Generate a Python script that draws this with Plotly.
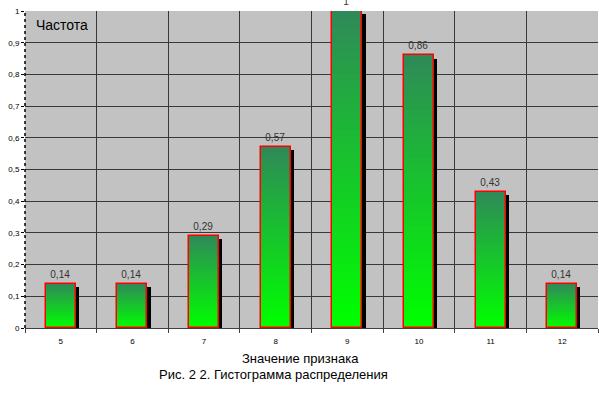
import plotly.graph_objects as go

categories = [5, 6, 7, 8, 9, 10, 11, 12]
frequencies = [0.14, 0.14, 0.29, 0.57, 1.0, 0.86, 0.43, 0.14]
y_tick_values = [0, 0.1, 0.2, 0.3, 0.4, 0.5, 0.6, 0.7, 0.8, 0.9, 1.0]
y_tick_labels = ["0", "0,1", "0,2", "0,3", "0,4", "0,5", "0,6", "0,7", "0,8", "0,9", "1"]
x_tick_labels = ["5", "6", "7", "8", "9", "10", "11", "12"]
value_labels = [f"{v:g}".replace(".", ",") for v in frequencies]

BAR_W = 0.42
N_SEG = 40
TOP_RGB = (46, 139, 87)
BOT_RGB = (0, 255, 0)

fig = go.Figure()

# shadow
fig.add_trace(go.Bar(
    x=categories, y=[v - 0.01 for v in frequencies], base=0,
    width=BAR_W, offset=-BAR_W / 2 + 0.045,
    marker=dict(color="black", line=dict(width=0)),
    hoverinfo="skip", showlegend=False,
))

# gradient segments
for i in range(N_SEG):
    t = i / (N_SEG - 1)
    r = round(BOT_RGB[0] + (TOP_RGB[0] - BOT_RGB[0]) * t)
    g = round(BOT_RGB[1] + (TOP_RGB[1] - BOT_RGB[1]) * t)
    b = round(BOT_RGB[2] + (TOP_RGB[2] - BOT_RGB[2]) * t)
    fig.add_trace(go.Bar(
        x=categories,
        y=[v / N_SEG * 1.02 for v in frequencies],
        base=[v * i / N_SEG for v in frequencies],
        width=BAR_W,
        marker=dict(color=f"rgb({r},{g},{b})", line=dict(width=0)),
        hoverinfo="skip", showlegend=False,
    ))

# outline + labels
fig.add_trace(go.Bar(
    x=categories, y=frequencies, width=BAR_W,
    marker=dict(color="rgba(0,0,0,0)", line=dict(color="#ff0000", width=1.5)),
    text=value_labels, textposition="outside", cliponaxis=False,
    textfont=dict(family="Arial", size=10, color="#333333"),
    showlegend=False,
))

fig.add_shape(type="line", xref="paper", yref="paper", x0=0, x1=0, y0=0, y1=1,
              line=dict(color="black", width=1.5, dash="dot"), layer="above")

fig.add_annotation(text="Частота", xref="paper", yref="paper", x=0.015, y=1,
                   xanchor="left", yanchor="top", yshift=-4, showarrow=False,
                   font=dict(family="Arial", size=14, color="black"))
fig.add_annotation(text="Значение признака", xref="paper", yref="paper", x=0.481, y=0,
                   xanchor="center", yanchor="top", yshift=-21, showarrow=False,
                   font=dict(family="Arial", size=13, color="black"))
fig.add_annotation(text="Рис. 2 2. Гистограмма распределения", xref="paper", yref="paper",
                   x=0.434, y=0, xanchor="center", yanchor="top", yshift=-37,
                   showarrow=False, font=dict(family="Arial", size=13, color="black"))

fig.update_layout(
    width=599, height=398,
    margin=dict(l=25, r=1, t=11, b=70),
    barmode="overlay",
    bargap=0,
    paper_bgcolor="white",
    plot_bgcolor="#c2c2c2",
    font=dict(family="Arial", size=8, color="black"),
    xaxis=dict(
        range=[4.5, 12.5], tickmode="array", tickvals=categories, ticktext=x_tick_labels,
        ticks="", showgrid=False, zeroline=False,
        showline=True, linecolor="#404040", linewidth=1,
        tickfont=dict(size=8, color="black"), ticklabelstandoff=5,
        minor=dict(tickvals=[4.5 + k for k in range(9)], showgrid=True,
                   gridcolor="#383838", gridwidth=1, ticks="outside", ticklen=4,
                   tickcolor="#404040"),
    ),
    yaxis=dict(
        range=[0, 1], tickmode="array", tickvals=y_tick_values, ticktext=y_tick_labels,
        showgrid=True, gridcolor="#383838", gridwidth=1, zeroline=False,
        ticks="outside", ticklen=3, tickcolor="black",
        tickfont=dict(size=8, color="black"),
    ),
)

fig.write_html("out.html", config={"displayModeBar": False},
               post_script="document.body.style.margin='0';")
